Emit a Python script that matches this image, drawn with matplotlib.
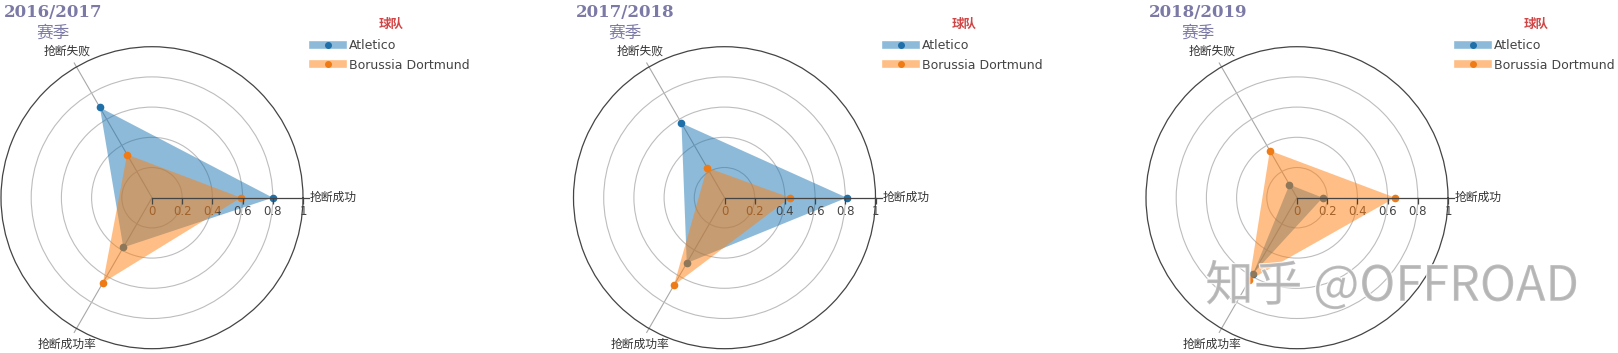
import numpy as np
import matplotlib.pyplot as plt
import matplotlib.patheffects as pe
from matplotlib.lines import Line2D
from matplotlib.colors import to_rgba

plt.rcParams['font.family'] = ['Noto Sans CJK SC', 'DejaVu Sans']

# data
categories = ['抢断成功', '抢断失败', '抢断成功率']
seasons = ['2016/2017', '2017/2018', '2018/2019']
teams = ['Atletico', 'Borussia Dortmund']
atletico = [[0.80, 0.69, 0.38],
            [0.81, 0.57, 0.50],
            [0.17, 0.10, 0.58]]
dortmund = [[0.59, 0.33, 0.65],
            [0.435, 0.23, 0.67],
            [0.65, 0.36, 0.63]]
rticks = [0, 0.2, 0.4, 0.6, 0.8, 1]
rtick_labels = ['0', '0.2', '0.4', '0.6', '0.8', '1']

W, H = 1618, 353
fill_cols = ['#1f77b4', '#ff7f0e']
dot_cols = ['#1f6fa8', '#ef7b16']
title_col = '#7b79a6'

fig = plt.figure(figsize=(W / 100, H / 100), dpi=100)

theta = np.deg2rad([0, 120, 240])
centers = [152, 724.5, 1297]
cy, R = 197.7, 151

for i, season in enumerate(seasons):
    cx = centers[i]
    ax = fig.add_axes([(cx - R) / W, (H - cy - R) / H, 2 * R / W, 2 * R / H],
                      projection='polar')
    ax.set_ylim(0, 1)
    ax.set_xticks([])
    ax.set_yticks([0.2, 0.4, 0.6, 0.8])
    ax.set_yticklabels([])
    ax.yaxis.grid(True, color='#bdbdbd', lw=0.8)
    ax.spines['polar'].set_color('#444444')
    ax.spines['polar'].set_linewidth(0.9)

    # angular axis lines
    for th in theta[1:]:
        ax.plot([th, th], [0, 1.03], color='#a8a8a8', lw=0.8, clip_on=False, zorder=1)
    ax.plot([0, 0], [0, 1.04], color='#444444', lw=0.9, clip_on=False, zorder=4)
    ax.plot(np.zeros(len(rticks)), rticks, ls='', marker=3, ms=4, mew=0.9,
            color='#444444', clip_on=False, zorder=4)
    for r, lab in zip(rticks, rtick_labels):
        ax.annotate(lab, xy=(0, r), xytext=(0, -5), textcoords='offset points',
                    ha='center', va='top', fontsize=8.5, color='#444444',
                    family='DejaVu Sans', annotation_clip=False)

    # category labels
    ax.text(0, 1.045, categories[0], ha='left', va='center', fontsize=8.5, color='#333333')
    ax.text(theta[1], 1.12, categories[1], ha='center', va='center', fontsize=8.5, color='#333333')
    ax.text(theta[2], 1.12, categories[2], ha='center', va='center', fontsize=8.5, color='#333333')

    # series
    th_c = np.append(theta, theta[0])
    for k, vals in enumerate([atletico[i], dortmund[i]]):
        v_c = np.append(vals, vals[0])
        ax.fill(th_c, v_c, color=fill_cols[k], alpha=0.5, lw=0, zorder=2 + k)
        ax.plot(theta, vals, 'o', ms=4.5, color=dot_cols[k], zorder=2 + k)

    # titles
    fig.text((cx - 99) / W, 1 - 4 / H, season, ha='center', va='top', fontsize=12,
             fontweight='bold', family='DejaVu Serif', color=title_col)
    fig.text((cx - 99) / W, 1 - 33 / H, '赛季', ha='center', va='center',
             fontsize=12, color=title_col)

    # legend
    handles = [Line2D([], [], color=to_rgba(fill_cols[k], 0.5), lw=5.5, marker='o', ms=4,
                      mfc=dot_cols[k], mec=dot_cols[k]) for k in range(2)]
    leg = fig.legend(handles, teams, title='球队', loc='upper left',
                     bbox_to_anchor=((cx + 161) / W, 1 - 18 / H), frameon=False,
                     fontsize=9, handlelength=2.4, handletextpad=0.5, numpoints=1,
                     labelspacing=0.5, borderpad=0, borderaxespad=0,
                     title_fontproperties={'size': 9, 'weight': 'bold'})
    leg._legend_box.sep = 6
    leg.get_title().set_color('#d04545')
    for t in leg.get_texts():
        t.set_color('#444444')
        t.set_family('DejaVu Sans')

# watermark
fig.text(1392 / W, 1 - 287 / H, '知乎 @OFFROAD', ha='center', va='center',
         fontsize=35, color='#b3b3b3', alpha=0.85,
         path_effects=[pe.withStroke(linewidth=1.5, foreground='white')])

fig.savefig('out.png', dpi=100)
